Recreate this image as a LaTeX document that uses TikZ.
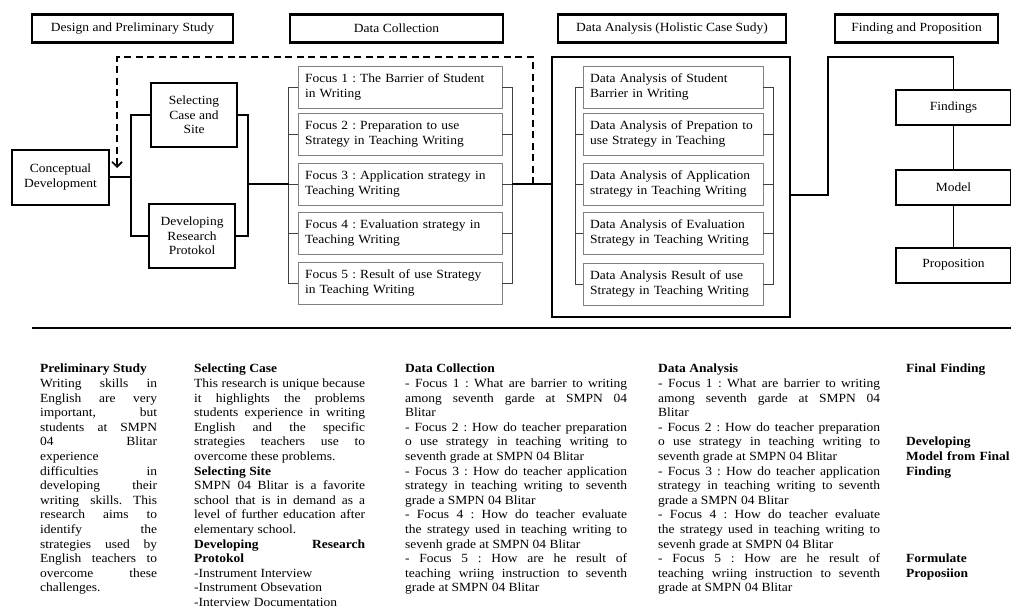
\documentclass[tikz,border=0pt]{standalone}
\usepackage{fontspec}
\setmainfont{Liberation Serif}[FakeStretch=1.08]
\usetikzlibrary{arrows.meta,positioning}
\tolerance=10000
\hyphenpenalty=10000
\frenchspacing

\begin{document}
\begin{tikzpicture}[x=1pt, y=-1pt,
    every node/.style={font=\fontsize{12.5}{14.6}\selectfont},
    hdr/.style={draw, line width=2.4pt, minimum width=#1, minimum height=28pt, inner sep=0pt},
    bbox/.style={draw, line width=2pt, align=center, inner sep=2pt},
    fbox/.style={draw=black!50, line width=0.9pt, text width=#1, inner xsep=7pt, minimum height=42pt, align=left},
    rbox/.style={draw, line width=2pt, minimum width=115pt, minimum height=35pt},
    conn/.style={line width=1.5pt},
    brk/.style={draw=black!75, line width=0.9pt},
    dline/.style={line width=1.7pt, dash pattern=on 7pt off 4.5pt, -{Straight Barb[length=5pt,width=10pt]}},
    btxt/.style={anchor=north west, inner sep=0pt, align=justify, text width=#1}
]
\useasboundingbox (0,0) rectangle (1011,610);

% stage headers
\node[hdr=201pt] (hdesign) at (132.5,28.5) {Design and Preliminary Study};
\node[hdr=213pt] (hcollect) at (396.5,28.5) {Data Collection};
\node[hdr=228pt] (hanalysis) at (672,28.5) {Data Analysis (Holistic Case Sudy)};
\node[hdr=163pt] (hfinding) at (916.5,28.5) {Finding and Proposition};

% design
\node[bbox, minimum width=97pt, minimum height=55pt] (concept) at (60.5,177) {Conceptual\\Development};
\node[bbox, minimum width=86pt, minimum height=64pt] (select) at (194,115) {Selecting\\Case and\\Site};
\node[bbox, minimum width=86pt, minimum height=64pt] (develop) at (192,236) {Developing\\Research\\Protokol};

% data collection
\node[fbox=190pt] (focus1) at (400,87) {Focus 1 : The Barrier of Student\\in Writing};
\node[fbox=190pt] (focus2) at (400,134) {Focus 2 : Preparation to use\\Strategy in Teaching Writing};
\node[fbox=190pt] (focus3) at (400,184) {Focus 3 : Application strategy in\\Teaching Writing};
\node[fbox=190pt] (focus4) at (400,233) {Focus 4 : Evaluation strategy in\\Teaching Writing};
\node[fbox=190pt] (focus5) at (400,283) {Focus 5 : Result of use Strategy\\in Teaching Writing};

% data analysis
\node[draw, line width=2.4pt, minimum width=238pt, minimum height=260pt] (dabox) at (671,187) {};
\node[fbox=166pt] (da1) at (673,87) {Data Analysis of Student\\Barrier in Writing};
\node[fbox=166pt] (da2) at (673,134) {Data Analysis of Prepation to\\use Strategy in Teaching};
\node[fbox=166pt] (da3) at (673,184) {Data Analysis of Application\\strategy in Teaching Writing};
\node[fbox=166pt] (da4) at (673,233) {Data Analysis of Evaluation\\Strategy in Teaching Writing};
\node[fbox=166pt] (da5) at (673,284) {Data Analysis Result of use\\Strategy in Teaching Writing};

% finding
\node[rbox] (findings) at (953.5,107.5) {Findings};
\node[rbox] (model) at (953.5,187.5) {Model};
\node[rbox] (proposition) at (953.5,265) {Proposition};

\coordinate (lbr) at (131,177);
\coordinate (rbr) at (248,184);
\coordinate (fin) at (289,184);
\coordinate (fout) at (512,184);
\coordinate (djoin) at (533,184);
\coordinate (dtop) at (117,57);
\coordinate (dend) at (117,168);
\coordinate (daout) at ([yshift=-8pt]dabox.east);
\coordinate (ftop) at (828,57);

% brackets
\draw[brk] (focus1.west) -- ++(-9,0) |- (focus5.west);
\draw[brk] (focus1.east) -- ++(10,0) |- (focus5.east);
\draw[brk] (da1.west) -- ++(-7,0) |- (da5.west);
\draw[brk] (da1.east) -- ++(10,0) |- (da5.east);
\foreach \n in {2,3,4} {
  \draw[brk] (focus\n.west) -- ++(-9,0);
  \draw[brk] (focus\n.east) -- ++(10,0);
  \draw[brk] (da\n.west) -- ++(-7,0);
  \draw[brk] (da\n.east) -- ++(10,0);
}

% connectors
\draw[conn] (concept.east) -- (lbr);
\draw[conn] (select.west) -| (lbr) |- (develop.west);
\draw[conn] (select.east) -| (rbr) |- (develop.east);
\draw[conn] (rbr) -- (fin);
\draw[conn] (fout) -- (fout -| dabox.west);
\draw[dline] (djoin) |- (dtop) -- (dend);
\draw[conn] (daout) -| (ftop) -| (findings.north);
\draw[conn] (findings) -- (model);
\draw[conn] (model) -- (proposition);

\draw[line width=2pt] (32,328) -- (1011,328);

% notes
\node[btxt=117pt] (prelim) at (40,364) {\textbf{Preliminary Study}\\
Writing skills in\linebreak English are very\linebreak important, but\linebreak
students at SMPN\linebreak 04 Blitar\linebreak experience\linebreak difficulties in\linebreak
developing their\linebreak writing skills. This\linebreak research aims to\linebreak
identify the\linebreak strategies used by\linebreak English teachers to\linebreak
overcome these\linebreak challenges.};
\node[btxt=171pt] (selcase) at (194,364) {\textbf{Selecting Case}\\
This research is unique because\linebreak it highlights the problems\linebreak
students experience in writing\linebreak English and the specific\linebreak
strategies teachers use to\linebreak overcome these problems.\\
\textbf{Selecting Site}\\
SMPN 04 Blitar is a favorite\linebreak school that is in demand as a\linebreak
level of further education after\linebreak elementary school.\\
\textbf{Developing Research}\linebreak \textbf{Protokol}\\
-Instrument Interview\\
-Instrument Obsevation\\
-Interview Documentation};
\node[btxt=222pt] (collect) at (405,364) {\textbf{Data Collection}\\
- Focus 1 : What are barrier to writing\linebreak among seventh garde at SMPN 04\linebreak Blitar\\
- Focus 2 : How do teacher preparation\linebreak o use strategy in teaching writing to\linebreak seventh grade at SMPN 04 Blitar\\
- Focus 3 : How do teacher application\linebreak strategy in teaching writing to seventh\linebreak grade a SMPN 04 Blitar\\
- Focus 4 : How do teacher evaluate\linebreak the strategy used in teaching writing to\linebreak sevenh grade at SMPN 04 Blitar\\
- Focus 5 : How are he result of\linebreak teaching wriing instruction to seventh\linebreak grade at SMPN 04 Blitar};
\node[btxt=222pt] (analysis) at (658,364) {\textbf{Data Analysis}\\
- Focus 1 : What are barrier to writing\linebreak among seventh garde at SMPN 04\linebreak Blitar\\
- Focus 2 : How do teacher preparation\linebreak o use strategy in teaching writing to\linebreak seventh grade at SMPN 04 Blitar\\
- Focus 3 : How do teacher application\linebreak strategy in teaching writing to seventh\linebreak grade a SMPN 04 Blitar\\
- Focus 4 : How do teacher evaluate\linebreak the strategy used in teaching writing to\linebreak sevenh grade at SMPN 04 Blitar\\
- Focus 5 : How are he result of\linebreak teaching wriing instruction to seventh\linebreak grade at SMPN 04 Blitar};
\node[btxt=105pt, align=left] (final) at (906,364) {\textbf{Final Finding}\\[58.4pt]
\textbf{Developing}\\ \textbf{Model from Final}\\ \textbf{Finding}\\[73pt]
\textbf{Formulate}\\ \textbf{Proposiion}};
\end{tikzpicture}
\end{document}
